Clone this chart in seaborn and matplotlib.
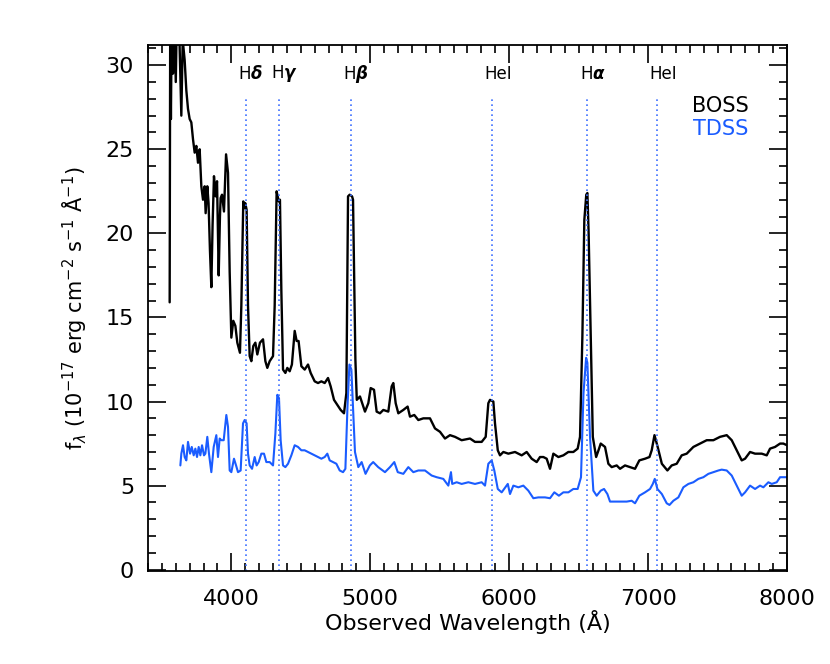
"""BOSS vs TDSS spectrum comparison plot."""

import matplotlib
matplotlib.use("Agg")
import matplotlib.pyplot as plt
import seaborn as sns
import pandas as pd
from matplotlib.ticker import MultipleLocator

# BOSS spectrum (wavelength in Angstrom, flux in 1e-17 erg/cm2/s/A)
boss_wave = [
    3556, 3560, 3565, 3572, 3580, 3590, 3600, 3610, 3625, 3640, 3650, 3664,
    3676, 3688, 3700, 3712, 3724, 3736, 3748, 3760, 3772, 3784, 3796, 3808,
    3815, 3827, 3836, 3846, 3856, 3865, 3875, 3887, 3897, 3909, 3918, 3923,
    3933, 3947, 3962, 3976, 3988, 4000, 4014, 4029, 4043, 4062, 4072, 4086,
    4093, 4100, 4110, 4120, 4132, 4144, 4158, 4173, 4187, 4206, 4228, 4245,
    4259, 4276, 4300, 4312, 4326, 4341, 4350, 4360, 4372, 4389, 4403, 4420,
    4436, 4456, 4470, 4484, 4504, 4528, 4552, 4571, 4600, 4624, 4648, 4672,
    4696, 4715, 4739, 4763, 4787, 4811, 4828, 4840, 4852, 4869, 4876, 4885,
    4893, 4903, 4926, 4962, 4986, 5003, 5027, 5046, 5070, 5094, 5130, 5154,
    5166, 5183, 5202, 5238, 5269, 5286, 5317, 5346, 5382, 5430, 5466, 5502,
    5538, 5574, 5610, 5658, 5718, 5754, 5802, 5831, 5850, 5862, 5886, 5898,
    5918, 5934, 5958, 5994, 6042, 6090, 6126, 6162, 6198, 6222, 6246, 6270,
    6294, 6318, 6354, 6390, 6426, 6462, 6493, 6510, 6527, 6541, 6555, 6563,
    6572, 6582, 6602, 6626, 6643, 6659, 6690, 6714, 6738, 6774, 6798, 6834,
    6870, 6906, 6937, 6978, 7010, 7026, 7046, 7069, 7099, 7139, 7170, 7206,
    7242, 7278, 7326, 7374, 7422, 7470, 7518, 7566, 7602, 7626, 7650, 7674,
    7698, 7734, 7770, 7818, 7854, 7878, 7914, 7950, 7974, 8000,
]
boss_flux = [
    15.9, 33.0, 26.8, 34.0, 29.5, 33.0, 29.0, 34.0, 32.0, 27.0, 31.5, 30.3,
    28.5, 27.4, 26.8, 26.6, 25.6, 24.8, 25.2, 24.2, 25.0, 22.8, 22.0, 22.8,
    21.2, 22.8, 21.8, 19.0, 16.8, 20.5, 23.4, 22.2, 23.1, 17.5, 21.0, 22.1,
    22.3, 21.3, 24.7, 23.6, 17.7, 13.8, 14.8, 14.5, 13.5, 12.9, 15.7, 21.9,
    21.5, 21.8, 21.4, 15.7, 12.7, 12.4, 13.3, 13.5, 12.8, 13.5, 13.7, 12.4,
    12.0, 12.4, 12.7, 15.7, 22.5, 21.9, 22.0, 16.6, 11.9, 11.7, 12.0, 11.8,
    12.2, 14.2, 13.6, 13.6, 12.1, 11.9, 12.2, 11.7, 11.2, 11.1, 11.2, 11.1,
    11.4, 10.9, 10.1, 9.8, 9.5, 9.3, 10.5, 22.2, 22.3, 22.2, 22.0, 17.0,
    12.5, 10.1, 10.3, 9.4, 9.9, 10.8, 10.7, 9.4, 9.3, 9.5, 9.4, 10.9,
    11.1, 9.9, 9.3, 9.5, 9.7, 9.1, 9.2, 8.9, 9.0, 9.0, 8.4, 8.2,
    7.8, 8.0, 7.9, 7.7, 7.8, 7.6, 7.6, 7.9, 9.9, 10.1, 10.0, 8.7,
    7.1, 6.8, 7.0, 6.9, 7.0, 6.8, 7.0, 6.6, 6.4, 6.7, 6.7, 6.6,
    6.0, 6.9, 6.7, 6.8, 7.0, 7.0, 7.2, 7.9, 13.9, 20.8, 22.3, 22.4,
    20.0, 15.9, 7.9, 6.7, 7.1, 7.5, 7.3, 6.3, 6.1, 6.2, 6.0, 6.2,
    6.1, 6.0, 6.5, 6.6, 6.7, 7.1, 8.0, 7.3, 6.3, 5.9, 6.2, 6.3,
    6.8, 6.9, 7.3, 7.5, 7.7, 7.7, 7.9, 8.0, 7.7, 7.3, 6.9, 6.5,
    6.6, 7.0, 6.9, 6.9, 6.8, 7.2, 7.3, 7.5, 7.5, 7.4,
]

# TDSS spectrum
tdss_wave = [
    3633, 3640, 3652, 3664, 3676, 3688, 3703, 3715, 3729, 3741, 3753, 3765,
    3777, 3789, 3803, 3813, 3827, 3839, 3856, 3873, 3892, 3904, 3916, 3928,
    3945, 3964, 3976, 3988, 4000, 4019, 4034, 4048, 4067, 4084, 4096, 4110,
    4120, 4132, 4149, 4168, 4182, 4197, 4216, 4235, 4252, 4276, 4300, 4317,
    4331, 4343, 4355, 4372, 4389, 4408, 4432, 4456, 4480, 4504, 4528, 4552,
    4576, 4600, 4624, 4648, 4672, 4691, 4708, 4732, 4756, 4780, 4804, 4821,
    4836, 4850, 4864, 4876, 4890, 4914, 4938, 4966, 4997, 5021, 5057, 5106,
    5142, 5173, 5198, 5238, 5274, 5310, 5346, 5394, 5442, 5478, 5526, 5562,
    5581, 5590, 5622, 5658, 5706, 5754, 5802, 5826, 5850, 5874, 5893, 5918,
    5946, 5990, 6006, 6030, 6066, 6102, 6138, 6174, 6210, 6258, 6294, 6325,
    6358, 6390, 6426, 6462, 6493, 6517, 6535, 6554, 6563, 6582, 6606, 6630,
    6659, 6683, 6707, 6726, 6762, 6798, 6846, 6882, 6906, 6937, 6978, 7014,
    7034, 7048, 7067, 7099, 7134, 7154, 7182, 7218, 7254, 7290, 7326, 7362,
    7398, 7434, 7470, 7506, 7530, 7566, 7602, 7638, 7674, 7698, 7734, 7770,
    7806, 7830, 7866, 7890, 7926, 7950, 7979, 8000,
]
tdss_flux = [
    6.2, 6.9, 7.4, 6.7, 6.5, 7.6, 6.9, 7.3, 6.8, 7.2, 6.7, 7.3,
    6.8, 7.4, 6.8, 6.9, 7.9, 6.9, 5.8, 7.3, 8.0, 6.7, 7.8, 7.7,
    7.7, 9.2, 8.5, 5.9, 5.8, 6.6, 6.2, 5.8, 5.9, 8.7, 8.9, 8.7,
    6.9, 6.2, 6.0, 6.7, 6.2, 6.4, 6.9, 6.9, 6.4, 6.4, 6.2, 8.1,
    10.4, 10.2, 7.7, 6.2, 6.1, 6.3, 6.8, 7.4, 7.3, 7.1, 7.1, 7.0,
    6.9, 6.8, 6.7, 6.6, 6.7, 6.9, 6.5, 6.4, 6.3, 5.9, 5.8, 6.0,
    9.7, 12.2, 11.9, 9.7, 7.0, 6.1, 6.4, 5.7, 6.2, 6.4, 6.1, 5.8,
    6.1, 6.4, 5.8, 5.7, 6.1, 5.8, 5.9, 5.9, 5.6, 5.5, 5.4, 5.0,
    5.8, 5.1, 5.2, 5.1, 5.2, 5.1, 5.2, 5.0, 6.3, 6.5, 5.9, 4.8,
    4.6, 5.1, 4.5, 5.0, 4.9, 5.0, 4.7, 4.25, 4.3, 4.3, 4.25, 4.6,
    4.4, 4.6, 4.6, 4.8, 4.8, 5.5, 10.5, 12.6, 12.3, 7.9, 4.7, 4.4,
    4.7, 4.8, 4.5, 4.05, 4.05, 4.05, 4.05, 4.1, 3.95, 4.4, 4.6, 4.8,
    5.1, 5.4, 4.8, 4.5, 3.95, 3.85, 4.1, 4.3, 4.9, 5.1, 5.2, 5.4,
    5.5, 5.7, 5.8, 5.9, 5.95, 5.9, 5.6, 5.0, 4.4, 4.6, 5.0, 4.8,
    5.0, 4.9, 5.2, 5.1, 5.2, 5.5, 5.5, 5.5,
]

# emission line markers
line_wave = [4102, 4341, 4862, 5876, 6563, 7065]
line_names = [r"H$\mathbfit{\delta}$", r"H$\mathbfit{\gamma}$", r"H$\mathbfit{\beta}$",
              "HeI", r"H$\mathbfit{\alpha}$", "HeI"]

BLUE = "#1a5cff"

sns.set_style("ticks")
plt.rcParams["font.family"] = ["DejaVu Sans"]
plt.rcParams["mathtext.fontset"] = "dejavusans"
plt.rcParams["text.color"] = "black"
plt.rcParams["axes.labelcolor"] = "black"
plt.rcParams["xtick.color"] = "black"
plt.rcParams["ytick.color"] = "black"

fig = plt.figure(figsize=(8.3, 6.64), dpi=100)
ax = fig.add_axes([0.1783, 0.140, 0.7699, 0.7922])

boss = pd.DataFrame({"wave": boss_wave, "flux": boss_flux})
tdss = pd.DataFrame({"wave": tdss_wave, "flux": tdss_flux})
sns.lineplot(data=boss, x="wave", y="flux", color="black", lw=1.7,
             estimator=None, sort=False, ax=ax)
sns.lineplot(data=tdss, x="wave", y="flux", color=BLUE, lw=1.5,
             estimator=None, sort=False, ax=ax)

for w, name in zip(line_wave, line_names):
    ax.axvline(w, ymin=0, ymax=0.90, color="#3d6fff", ls=(0, (1, 2)), lw=1.2)
    ax.text(w - 55, 29.5, name, fontsize=12, ha="left", va="center")

ax.text(0.94, 0.885, "BOSS", transform=ax.transAxes, fontsize=15,
        ha="right", va="center", color="black")
ax.text(0.94, 0.84, "TDSS", transform=ax.transAxes, fontsize=15,
        ha="right", va="center", color=BLUE)

ax.set_xlim(3400, 8000)
ax.set_ylim(-0.08, 31.2)
ax.xaxis.set_major_locator(MultipleLocator(1000))
ax.xaxis.set_minor_locator(MultipleLocator(100))
ax.yaxis.set_major_locator(MultipleLocator(5))
ax.yaxis.set_minor_locator(MultipleLocator(1))
ax.tick_params(which="both", direction="in", top=True, right=True, width=1.2)
ax.tick_params(which="major", length=13, labelsize=16)
ax.tick_params(which="minor", length=6)
ax.tick_params(axis="x", which="major", pad=13)
ax.tick_params(axis="y", which="major", pad=10)
for spine in ax.spines.values():
    spine.set_linewidth(1.3)
    spine.set_color("black")

ax.set_xlabel("Observed Wavelength (Å)", fontsize=16, labelpad=1)
ax.set_ylabel(r"f$_\lambda$ (10$^{-17}$ erg cm$^{-2}$ s$^{-1}$ Å$^{-1}$)",
              fontsize=15, labelpad=12)

plt.savefig("out.png", dpi=100)
plt.close()
